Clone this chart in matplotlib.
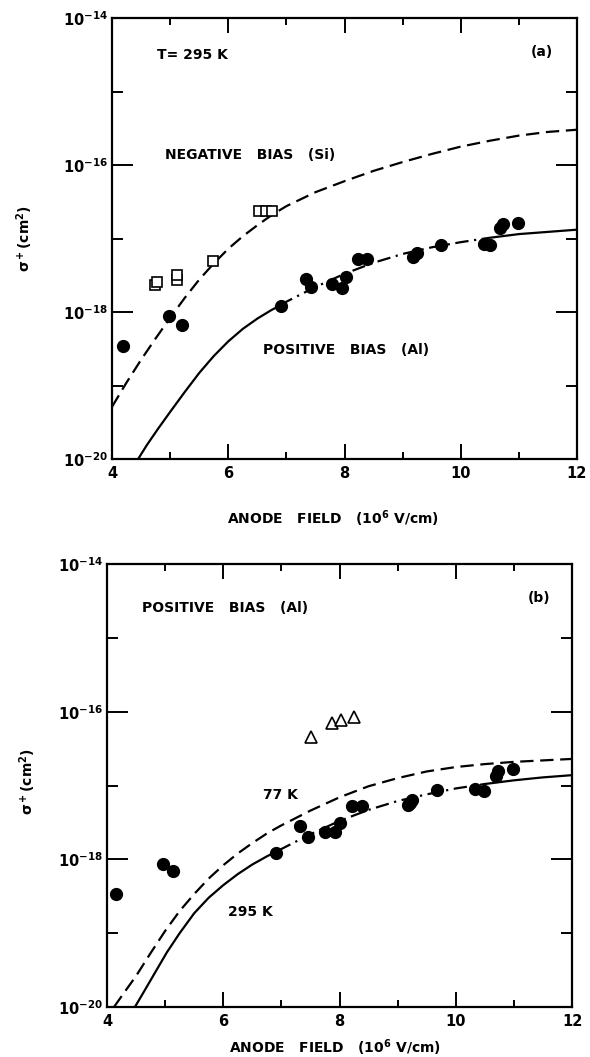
import numpy as np
import matplotlib
matplotlib.use("Agg")
import matplotlib.pyplot as plt
from matplotlib.ticker import FixedLocator, FixedFormatter, NullFormatter

plt.rcParams['font.family'] = ['DejaVu Sans']
plt.rcParams['font.weight'] = 'bold'
plt.rcParams['mathtext.fontset'] = 'custom'
plt.rcParams['mathtext.rm'] = 'DejaVu Sans:bold'
plt.rcParams['mathtext.it'] = 'DejaVu Sans:bold'
plt.rcParams['mathtext.bf'] = 'DejaVu Sans:bold'
plt.rcParams['mathtext.default'] = 'rm'

# values are log10(sigma / cm^2)

# ---- panel (a) ----
circ_a_x = [4.19, 4.98, 5.20, 6.91, 7.33, 7.42, 7.78, 7.95, 8.03, 8.23, 8.39,
            9.18, 9.25, 9.66, 10.40, 10.50, 10.67, 10.73, 10.98]
circ_a_y = [-18.46, -18.05, -18.18, -17.92, -17.55, -17.66, -17.62, -17.67, -17.52,
            -17.28, -17.28, -17.25, -17.20, -17.09, -17.07, -17.09, -16.86, -16.80, -16.79]
sq_a_x = [4.74, 4.78, 5.12, 5.12, 5.74, 6.53, 6.65, 6.75]
sq_a_y = [-17.63, -17.59, -17.57, -17.50, -17.31, -16.63, -16.63, -16.63]

neg_x = [4.0, 4.25, 4.5, 4.75, 5.0, 5.25, 5.5, 5.75, 6.0, 6.25, 6.5, 6.75, 7.0, 7.5,
         8.0, 8.5, 9.0, 9.5, 10.0, 10.5, 11.0, 11.5, 12.0]
neg_y = [-19.29, -18.96, -18.65, -18.36, -18.08, -17.81, -17.56, -17.34, -17.14, -16.97,
         -16.82, -16.68, -16.56, -16.37, -16.22, -16.08, -15.96, -15.85, -15.75, -15.67,
         -15.60, -15.55, -15.52]

pos_a_x = [4.45, 4.6, 4.8, 5.0, 5.25, 5.5, 5.75, 6.0, 6.25, 6.5, 6.75, 6.9, 7.0, 7.5,
           8.0, 8.5, 9.0, 9.5, 10.0, 10.5, 10.6, 11.0, 11.5, 12.0]
pos_a_y = [-20.0, -19.81, -19.58, -19.36, -19.09, -18.83, -18.60, -18.40, -18.23, -18.09,
           -17.97, -17.91, -17.86, -17.66, -17.48, -17.33, -17.21, -17.12, -17.05, -16.99,
           -16.98, -16.94, -16.91, -16.88]

# ---- panel (b) ----
circ_b_x = [4.15, 4.97, 5.14, 6.91, 7.32, 7.46, 7.75, 7.92, 8.00, 8.21, 8.39, 9.18,
            9.21, 9.25, 9.68, 10.33, 10.49, 10.69, 10.73, 10.99]
circ_b_y = [-18.47, -18.06, -18.16, -17.92, -17.55, -17.70, -17.63, -17.63, -17.51,
            -17.28, -17.28, -17.26, -17.24, -17.20, -17.06, -17.05, -17.07, -16.87,
            -16.80, -16.78]
tri_b_x = [7.51, 7.87, 8.03, 8.25]
tri_b_y = [-16.34, -16.15, -16.11, -16.07]

k77_x = [4.12, 4.3, 4.5, 4.75, 5.0, 5.25, 5.5, 5.75, 6.0, 6.25, 6.5, 6.75, 7.0, 7.5,
         8.0, 8.5, 9.0, 9.5, 10.0, 10.5, 11.0, 12.0]
k77_y = [-20.0, -19.80, -19.58, -19.27, -18.97, -18.70, -18.47, -18.26, -18.08, -17.92,
         -17.78, -17.65, -17.54, -17.34, -17.16, -17.01, -16.90, -16.81, -16.75, -16.71,
         -16.68, -16.64]

k295_x = [4.48, 4.6, 4.8, 5.03, 5.25, 5.5, 5.75, 6.0, 6.25, 6.5, 6.75, 6.95, 7.0, 7.5,
          8.0, 8.5, 9.0, 9.5, 10.0, 10.5, 11.0, 11.5, 12.0]
k295_y = [-20.0, -19.84, -19.57, -19.26, -19.00, -18.73, -18.52, -18.35, -18.20, -18.07,
          -17.96, -17.88, -17.86, -17.66, -17.48, -17.33, -17.21, -17.12, -17.04, -16.98,
          -16.93, -16.89, -16.86]

x_major = [4, 6, 8, 10, 12]
x_minor = [5, 7, 9, 11]
y_major = [1e-20, 1e-18, 1e-16, 1e-14]
y_major_labels = ['10$^{-20}$', '10$^{-18}$', '10$^{-16}$', '10$^{-14}$']
y_minor = [1e-19, 1e-17, 1e-15]

ylab = r'$\sigma^+$(cm$^2$)'
xlab = r'ANODE   FIELD   (10$^6$ V/cm)'

fig = plt.figure(figsize=(5.9, 10.57), dpi=100)
ax1 = fig.add_axes([112/590, 1 - 459/1057, 465/590, 441/1057])
ax2 = fig.add_axes([107/590, 1 - 1007/1057, 465/590, 443/1057])

dash = (0, (6, 3))
dashdot = (0, (6, 2.5, 1, 2.5))


def lin(v):
    return 10.0 ** np.asarray(v)


def split_plot(ax, xs, ys, x1, x2):
    xs = np.asarray(xs)
    ys = lin(ys)
    m1 = xs <= x1
    m2 = (xs >= x1) & (xs <= x2)
    m3 = xs >= x2
    ax.plot(xs[m1], ys[m1], color='black', lw=1.6)
    ax.plot(xs[m2], ys[m2], color='black', lw=1.6, linestyle=dashdot)
    ax.plot(xs[m3], ys[m3], color='black', lw=1.6)


for ax in (ax1, ax2):
    ax.set_yscale('log')
    ax.set_xlim(4, 12)
    ax.set_ylim(1e-20, 1e-14)
    ax.xaxis.set_major_locator(FixedLocator(x_major))
    ax.xaxis.set_minor_locator(FixedLocator(x_minor))
    ax.yaxis.set_major_locator(FixedLocator(y_major))
    ax.yaxis.set_major_formatter(FixedFormatter(y_major_labels))
    ax.yaxis.set_minor_locator(FixedLocator(y_minor))
    ax.yaxis.set_minor_formatter(NullFormatter())
    ax.tick_params(axis='x', which='major', direction='in', length=11, width=1.4,
                   top=True, labelsize=10.5, pad=5)
    ax.tick_params(axis='x', which='minor', direction='in', length=5, width=1.4, top=True)
    ax.tick_params(axis='y', which='major', direction='in', length=15, width=1.4,
                   right=True, labelsize=10.5, pad=3)
    ax.tick_params(axis='y', which='minor', direction='in', length=8, width=1.4, right=True)
    for s in ax.spines.values():
        s.set_linewidth(1.6)

# panel (a)
ax1.plot(neg_x, lin(neg_y), color='black', lw=1.6, linestyle=dash)
split_plot(ax1, pos_a_x, pos_a_y, 6.9, 10.6)
ax1.plot(sq_a_x, lin(sq_a_y), linestyle='none', marker='s', ms=6.5, mfc='white',
         mec='black', mew=1.2)
ax1.plot(circ_a_x, lin(circ_a_y), linestyle='none', marker='o', ms=8.5, color='black')
ax1.text(0.097, 0.916, 'T= 295 K', transform=ax1.transAxes, fontsize=10, va='center')
ax1.text(0.90, 0.923, '(a)', transform=ax1.transAxes, fontsize=10, va='center')
ax1.text(0.114, 0.689, 'NEGATIVE   BIAS   (Si)', transform=ax1.transAxes, fontsize=10,
         va='center')
ax1.text(0.325, 0.247, 'POSITIVE   BIAS   (Al)', transform=ax1.transAxes, fontsize=10,
         va='center')

# panel (b)
ax2.plot(k77_x, lin(k77_y), color='black', lw=1.6, linestyle=dash)
split_plot(ax2, k295_x, k295_y, 6.95, 10.5)
ax2.plot(tri_b_x, lin(tri_b_y), linestyle='none', marker='^', ms=8, mfc='white',
         mec='black', mew=1.2)
ax2.plot(circ_b_x, lin(circ_b_y), linestyle='none', marker='o', ms=8.5, color='black')
ax2.text(0.075, 0.90, 'POSITIVE   BIAS   (Al)', transform=ax2.transAxes, fontsize=10,
         va='center')
ax2.text(0.905, 0.923, '(b)', transform=ax2.transAxes, fontsize=10, va='center')
ax2.text(0.335, 0.479, '77 K', transform=ax2.transAxes, fontsize=10, va='center')
ax2.text(0.26, 0.214, '295 K', transform=ax2.transAxes, fontsize=10, va='center')

# axis labels
fig.text(333/590, 1 - 519/1057, xlab, ha='center', va='center', fontsize=10)
fig.text(335/590, 1 - 1048/1057, xlab, ha='center', va='center', fontsize=10)
fig.text(25/590, 1 - 239/1057, ylab, rotation=90, ha='center', va='center', fontsize=10)
fig.text(28/590, 1 - 782/1057, ylab, rotation=90, ha='center', va='center', fontsize=10)

fig.savefig('out.png', dpi=100)
